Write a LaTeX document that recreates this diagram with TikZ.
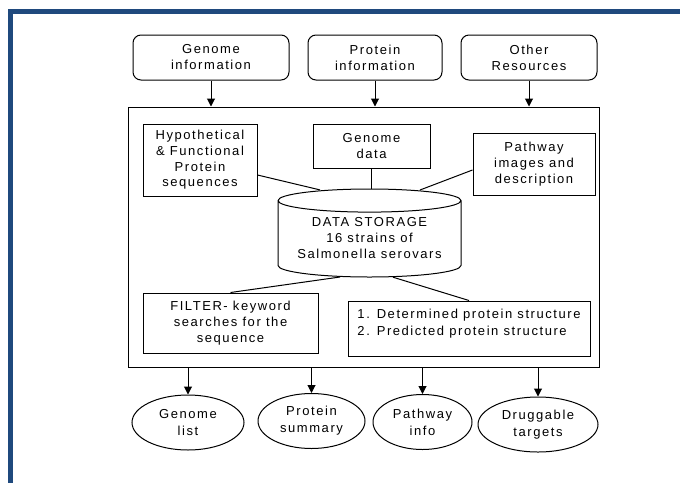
\documentclass[tikz,border=0pt]{standalone}
\usepackage{fontspec}
\usepackage{tikz}
\usetikzlibrary{arrows.meta,shapes.geometric,calc}
\newfontfamily\figfont[LetterSpace=12]{Liberation Sans}
\definecolor{frameblue}{HTML}{1F497D}
\tikzset{
  srcbox/.style   = {draw,rounded corners=8pt,minimum width=#1,minimum height=45pt,
                     inner sep=0pt,align=center,font=\figfont\fontsize{13}{16}\selectfont},
  infobox/.style  = {draw,minimum width=#1,inner sep=0pt,align=center},
  outoval/.style  = {draw,ellipse,minimum width=#1,minimum height=55pt,inner sep=0pt,
                     align=center,font=\figfont\fontsize{13}{17}\selectfont},
  store/.style    = {draw,cylinder,shape border rotate=90,aspect=0.16,minimum width=183pt,
                     minimum height=88pt,inner sep=0pt,align=center,text height=39pt,text depth=0.8pt},
  flowarr/.style  = {-{Triangle[length=8pt,width=8pt]},line width=1pt},
  linkline/.style = {line width=1pt}
}

\begin{document}
\begin{tikzpicture}[x=1pt,y=-1pt,line width=1pt,font=\figfont\fontsize{13}{15.7}\selectfont]
  \useasboundingbox (0,0) rectangle (680,483);
  \fill[frameblue] (8,9) rectangle (680,14);
  \fill[frameblue] (8,9) rectangle (13,483);

  \node[srcbox=156pt] (gin) at (211,57.5)  {Genome\\information};
  \node[srcbox=134pt] (pin) at (375,57.5)  {Protein\\information};
  \node[srcbox=136pt] (oth) at (529,57.5)  {Other\\Resources};

  \node[draw,minimum width=471pt,minimum height=260pt] (main) at (363.5,237) {};

  \draw[flowarr] (gin.south) -- (gin.south |- main.north);
  \draw[flowarr] (pin.south) -- (pin.south |- main.north);
  \draw[flowarr] (oth.south) -- (oth.south |- main.north);

  \node[infobox=114pt,minimum height=72pt] (hyp)  at (200,160)   {Hypothetical\\\& Functional\\Protein\\sequences};
  \node[infobox=117pt,minimum height=44pt] (gdat) at (371.5,146) {Genome\\data};
  \node[infobox=122pt,minimum height=62pt] (pwy)  at (534,164)   {Pathway\\images and\\description};

  \node[store,anchor=shape center] (stor) at (369.5,233) {DATA STORAGE\\16 strains of\\Salmonella serovars};

  \node[infobox=175pt,minimum height=60pt] (filt) at (230.5,323) {FILTER- keyword\\searches for the\\sequence};
  \node[draw,minimum width=242pt,inner xsep=5pt,inner ysep=8pt,text height=26.7pt,text depth=12.3pt,
        align=left,font=\figfont\fontsize{13}{17}\selectfont] (det) at (469,328.5)
        {1. Determined protein structure\\2. Predicted protein structure};

  \draw[linkline] ($(hyp.east)+(0,15)$) -- ($(stor.north)+(-49.5,1.4)$);
  \draw[linkline] (gdat.south) -- (gdat.south |- stor.north);
  \draw[linkline] ($(pwy.west)+(0,6)$) -- ($(stor.north)+(50.5,1.5)$);
  \draw[linkline] ($(stor.south)+(-29.5,-0.5)$) -- (filt.north);
  \draw[linkline] ($(stor.south)+(23.5,-0.3)$) -- (det.north);

  \node[outoval=112pt] (glst) at (188,422.5) {Genome\\list};
  \node[outoval=107pt] (psum) at (311.5,421) {Protein\\summary};
  \node[outoval=99pt]  (pinf) at (422.5,422) {Pathway\\info};
  \node[outoval=120pt] (drug) at (538,424.5) {Druggable\\targets};

  \draw[flowarr] (glst.north |- main.south) -- (glst.north);
  \draw[flowarr] (psum.north |- main.south) -- (psum.north);
  \draw[flowarr] (pinf.north |- main.south) -- (pinf.north);
  \draw[flowarr] (drug.north |- main.south) -- (drug.north);
\end{tikzpicture}
\end{document}
